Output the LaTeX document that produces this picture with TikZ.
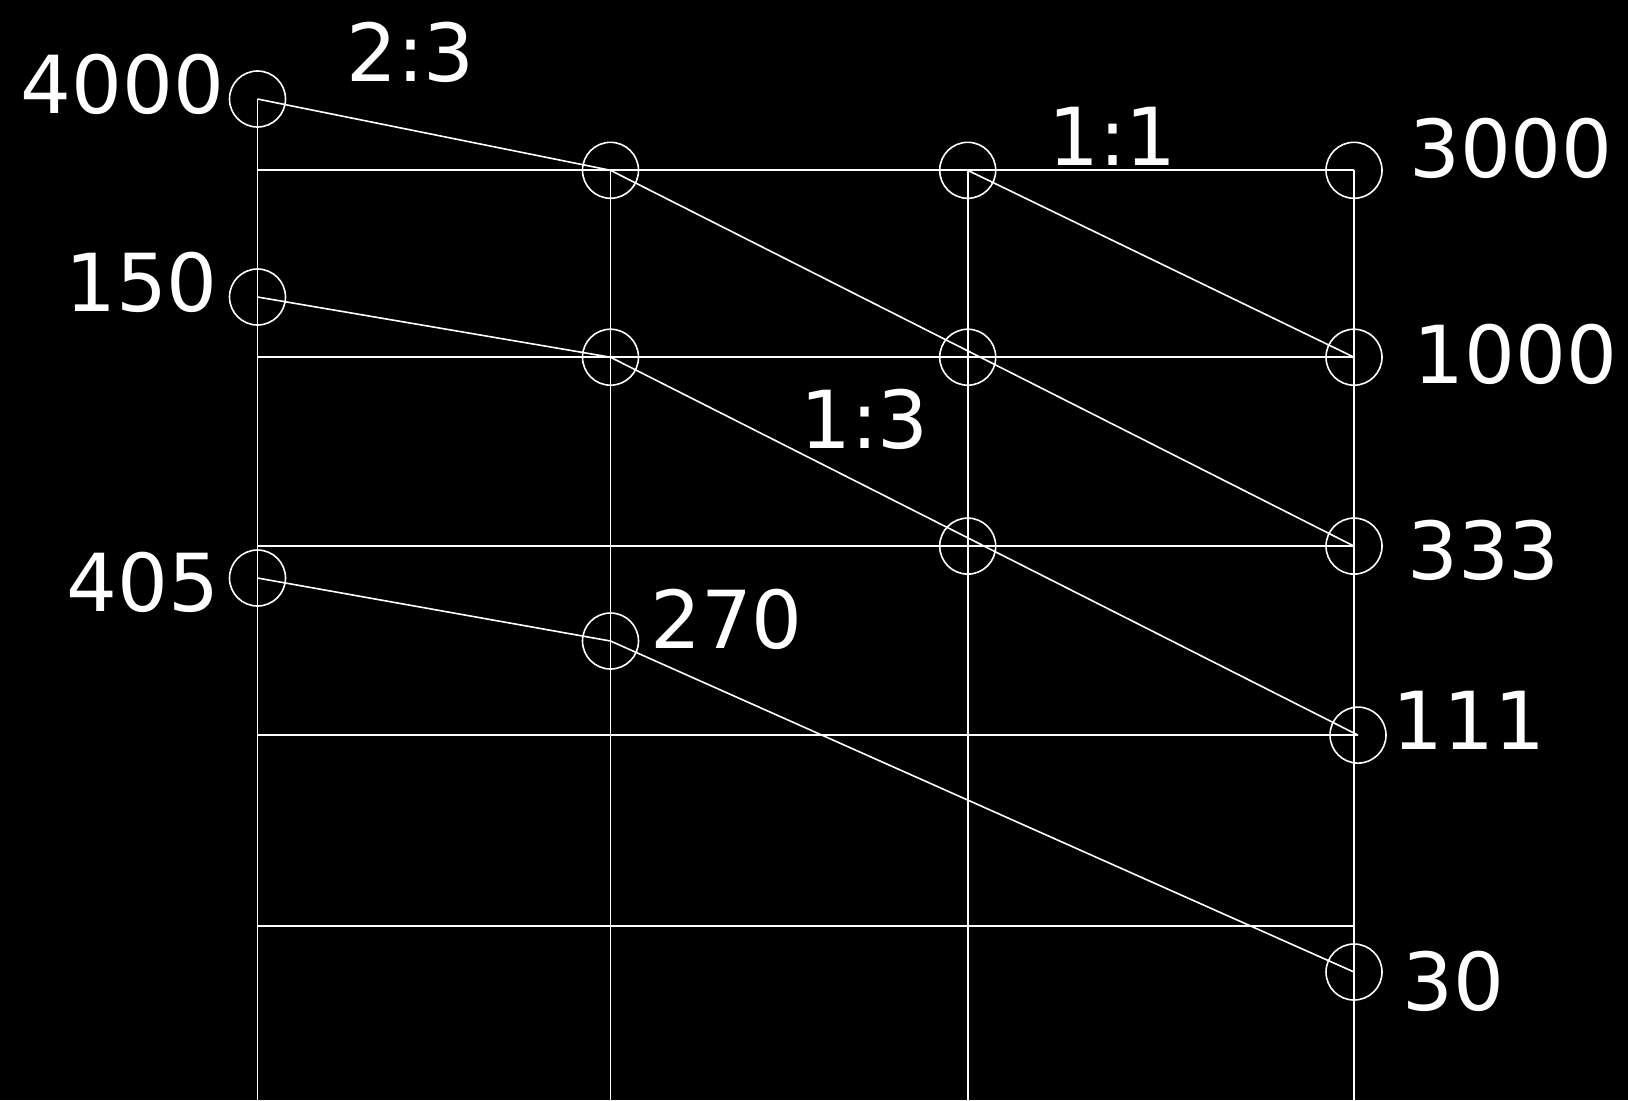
\documentclass[tikz,border=0pt]{standalone}
\usepackage{fontspec}
\setmainfont{DejaVu Sans}
\usetikzlibrary{positioning}

\begin{document}
\begin{tikzpicture}[
        x=0.5pt, y=-0.5pt,
        ring/.style={circle, draw=white, line width=0.8pt, minimum size=28pt, inner sep=0pt},
        num/.style={text=white, inner sep=0pt, font=\fontsize{40}{40}\selectfont},
        rule/.style={draw=white, line width=0.9pt},
        ray/.style={draw=white, line width=0.8pt}
    ]
        % Nền
        \fill[black] (0,0) rectangle (1628,1100);
        \useasboundingbox (0,0) rectangle (1628,1100);

        % Các điểm lưới
        \coordinate (a1) at (257.5,170.3);
        \coordinate (a2) at (257.5,357.2);
        \coordinate (a3) at (257.5,546.1);
        \coordinate (a4) at (257.5,735.1);
        \coordinate (a5) at (257.5,926.2);
        \coordinate (b4) at (1358,735.1);
        \coordinate (b5) at (1354,926.2);
        \coordinate (foota) at (257.5,1100);
        \coordinate (footb) at (610.5,1100);
        \coordinate (footc) at (967.7,1100);
        \coordinate (footd) at (1354,1100);

        % Các vòng tròn
        \node (n4000) [ring] at (257.5,99) {};
        \node (n150) [ring] at (257.5,297) {};
        \node (n405) [ring] at (257.5,578) {};
        \node (b1) [ring] at (610.5,170.3) {};
        \node (b2) [ring] at (610.5,357.2) {};
        \node (n270) [ring] at (610.5,641) {};
        \node (c1) [ring] at (967.7,170.3) {};
        \node (c2) [ring] at (967.7,357.2) {};
        \node (c3) [ring] at (967.7,546.1) {};
        \node (n3000) [ring] at (1354,170.3) {};
        \node (n1000) [ring] at (1354,357.2) {};
        \node (n333) [ring] at (1354,546.1) {};
        \node (n111) [ring] at (1358,735.1) {};
        \node (n30) [ring] at (1354,972) {};

        % Đường lưới
        \draw [rule] (n4000.center) -- (foota);
        \draw [rule] (b1.center) -- (footb);
        \draw [rule] (c1.center) -- (footc);
        \draw [rule] (n3000.center) -- (footd);
        \draw [rule] (a1) -- (n3000.center);
        \draw [rule] (a2) -- (n1000.center);
        \draw [rule] (a3) -- (n333.center);
        \draw [rule] (a4) -- (b4);
        \draw [rule] (a5) -- (b5);

        % Đường truyền tỉ số
        \draw [ray] (n4000.center) -- (b1.center);
        \draw [ray] (b1.center) -- (n333.center);
        \draw [ray] (c1.center) -- (n1000.center);
        \draw [ray] (n150.center) -- (b2.center);
        \draw [ray] (b2.center) -- (n111.center);
        \draw [ray] (n405.center) -- (n270.center);
        \draw [ray] (n270.center) -- (n30.center);

        % Nhãn
        \node (t4000) [num] at (122.5,84) {4000};
        \node (t23) [num] at (410.5,52.5) {2:3};
        \node (t11) [num] at (1112.5,136.5) {1:1};
        \node (t3000) [num] at (1511,148) {3000};
        \node (t150) [num] at (141.5,282) {150};
        \node (t1000) [num] at (1515.5,354) {1000};
        \node (t13) [num] at (864.5,419) {1:3};
        \node (t333) [num] at (1483.5,550) {333};
        \node (t405) [num] at (143,582.5) {405};
        \node (t270) [num] at (726.5,619.5) {270};
        \node (t111) [num] at (1469,720.5) {111};
        \node (t30) [num] at (1453.5,981) {30};
    \end{tikzpicture}
\end{document}
